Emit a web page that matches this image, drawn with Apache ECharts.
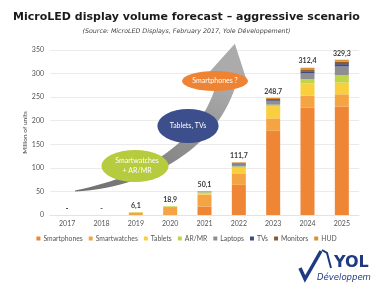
<!DOCTYPE html>
<html>
<head>
<meta charset="utf-8">
<script src="https://cdn.jsdelivr.net/npm/echarts@6/dist/echarts.min.js"></script>
<style>
html, body { margin: 0; padding: 0; background: #fff; }
#main { width: 373px; height: 286px; }
</style>
</head>
<body>
<div id="main"></div>
<script>
/* ============================= data ================================ */
var categories   = ['2017', '2018', '2019', '2020', '2021', '2022', '2023', '2024', '2025'];
var smartphones  = [0, 0, 0,   0,    18,  64,  179, 228,  230];
var smartwatches = [0, 0, 5,   16.9, 25,  23,  26,  25,   26];
var tablets      = [0, 0, 0.5, 1,    4,   13,  26,  26,   25];
var arMr         = [0, 0, 0.6, 1,    1,   3,   3,   9,    16];
var laptops      = [0, 0, 0,   0,    1,   4,   7,   12.5, 18];
var tvs          = [0, 0, 0,   0,    0.3, 1.5, 2.5, 3,    5];
var monitors     = [0, 0, 0,   0,    0.5, 1.5, 2.5, 4,    5];
var hud          = [0, 0, 0,   0,    0.3, 1.7, 2.7, 4.9,  4.3];
var totals       = ['-', '-', '6,1', '18,9', '50,1', '111,7', '248,7', '312,4', '329,3'];
var yTicks       = [0, 50, 100, 150, 200, 250, 300, 350];

var seriesNames  = ['Smartphones', 'Smartwatches', 'Tablets', 'AR/MR', 'Laptops', 'TVs', 'Monitors', 'HUD'];
var seriesData   = [smartphones, smartwatches, tablets, arMr, laptops, tvs, monitors, hud];
var seriesColors = ['#EE8636', '#F4A443', '#F9CF3E', '#C0D44A', '#8E8E92', '#3F4B80', '#8A5A33', '#DD9030'];

/* ============================= arrow (decoration) ========================= */
// curved grey arrow behind the ellipses, sampled from a cubic
function cubic(p0, p1, p2, p3, t) {
	var a = (1 - t) * (1 - t) * (1 - t), b = 3 * (1 - t) * (1 - t) * t, c = 3 * (1 - t) * t * t, d = t * t * t;
	return [a * p0[0] + b * p1[0] + c * p2[0] + d * p3[0], a * p0[1] + b * p1[1] + c * p2[1] + d * p3[1]];
}
function arrowPoints() {
	var p0 = [75, 191], p1 = [150, 182], p2 = [215, 140], p3 = [228, 76];
	var up = [], low = [];
	var n = 30;
	for (var i = 0; i <= n; i++) {
		var t = i / n;
		var c = cubic(p0, p1, p2, p3, t);
		var e = cubic(p0, p1, p2, p3, Math.min(1, t + 0.01));
		var s = cubic(p0, p1, p2, p3, Math.max(0, t - 0.01));
		var dx = e[0] - s[0], dy = e[1] - s[1];
		var len = Math.sqrt(dx * dx + dy * dy);
		dx /= len; dy /= len;
		var w = (1 + 19 * Math.pow(t, 0.8)) / 2;
		up.push([c[0] + dy * w, c[1] - dx * w]);
		low.push([c[0] - dy * w, c[1] + dx * w]);
		if (i == n) {
			var head = 19;
			up.push([c[0] + dy * head, c[1] - dx * head]);
			up.push([c[0] + dx * 33, c[1] + dy * 33]);
			up.push([c[0] - dy * head, c[1] + dx * head]);
		}
	}
	return up.concat(low.reverse());
}

/* ============================= option ========================= */
var series = [];
for (var i = 0; i < seriesNames.length; i++) {
	var s = {
		name: seriesNames[i],
		type: 'bar',
		stack: 'total',
		barWidth: 14,
		data: seriesData[i],
		itemStyle: { color: seriesColors[i] },
		emphasis: { disabled: true }
	};
	if (i == seriesNames.length - 1) { // totals on top of the stack
		s.label = {
			show: true,
			position: 'top',
			distance: 3,
			fontFamily: 'Lato',
			fontSize: 7,
			fontWeight: 'bold',
			color: '#3a3a3a',
			formatter: function (p) { return totals[p.dataIndex]; }
		};
	}
	series.push(s);
}

var option = {
	backgroundColor: '#fff',
	animation: false,
	title: [{
		text: 'MicroLED display volume forecast \u2013 aggressive scenario',
		left: 'center',
		top: 7,
		textStyle: { fontFamily: 'DejaVu Sans', fontSize: 11, fontWeight: 'bold', color: '#1a1a1a' }
	}, {
		text: '(Source: MicroLED Displays, February 2017, Yole D\u00e9veloppement)',
		left: 'center',
		top: 23,
		textStyle: { fontFamily: 'DejaVu Sans', fontSize: 6.3, fontStyle: 'italic', fontWeight: 'normal', color: '#444' }
	}],
	legend: {
		data: seriesNames,
		left: 'center',
		top: 230,
		icon: 'rect',
		itemWidth: 4,
		itemHeight: 4,
		itemGap: 6,
		textStyle: { fontFamily: 'Lato', fontSize: 6.8, color: '#555', padding: [0, 0, 0, -2] }
	},
	grid: { left: 50, right: 14, top: 50, bottom: 71 },
	xAxis: {
		type: 'category',
		data: categories,
		axisTick: { show: false },
		axisLine: { lineStyle: { color: '#e3e3e3' } },
		axisLabel: { fontFamily: 'Lato', fontSize: 7, color: '#555', margin: 5 }
	},
	yAxis: {
		type: 'value',
		min: yTicks[0],
		max: yTicks[yTicks.length - 1],
		interval: 50,
		name: 'Million of units',
		nameLocation: 'middle',
		nameGap: 22,
		nameMoveOverlap: false,
		nameTextStyle: { fontFamily: 'Lato', fontSize: 6.5, color: '#444' },
		axisLabel: { fontFamily: 'Lato', fontSize: 7, color: '#555', margin: 6 },
		splitLine: { lineStyle: { color: '#ebebeb' } }
	},
	series: series,
	graphic: [
		{
			type: 'polygon',
			shape: { points: arrowPoints() },
			style: {
				fill: { type: 'linear', x: 0, y: 1, x2: 0.4, y2: 0, colorStops: [
					{ offset: 0, color: '#6e6e6e' }, { offset: 1, color: '#ababab' }] }
			},
			z: 10
		},
		{ type: 'circle', x: 135, y: 166, scaleX: 2.1, shape: { cx: 0, cy: 0, r: 16 }, style: { fill: '#B7CB3E' }, z: 11 },
		{ type: 'text', x: 137, y: 161, style: { text: 'Smartwatches', fill: '#fff', font: '7px Lato', align: 'center', verticalAlign: 'middle' }, z: 12 },
		{ type: 'text', x: 137, y: 171, style: { text: '+ AR/MR', fill: '#fff', font: '7px Lato', align: 'center', verticalAlign: 'middle' }, z: 12 },
		{ type: 'circle', x: 188, y: 126, scaleX: 1.8, shape: { cx: 0, cy: 0, r: 17 }, style: { fill: '#3C4E8C' }, z: 11 },
		{ type: 'text', x: 188, y: 126, style: { text: 'Tablets, TVs', fill: '#fff', font: '7px Lato', align: 'center', verticalAlign: 'middle' }, z: 12 },
		{ type: 'circle', x: 215, y: 81, scaleX: 3.3, shape: { cx: 0, cy: 0, r: 10 }, style: { fill: '#EE8433' }, z: 11 },
		{ type: 'text', x: 215, y: 81, style: { text: 'Smartphones ?', fill: '#fff', font: '7px Lato', align: 'center', verticalAlign: 'middle' }, z: 12 },
		// Yole logo, bottom right
		{ type: 'polyline', shape: { points: [[300, 268], [305, 279], [321, 251]] }, style: { stroke: '#1F3A80', lineWidth: 3.5, fill: null }, z: 12 },
		{ type: 'polyline', shape: { points: [[322, 250], [327, 253], [331, 268]] }, style: { stroke: '#1F3A80', lineWidth: 2, fill: null }, z: 12 },
		{ type: 'text', x: 334, y: 271, style: { text: 'YOL', fill: '#1F3A80', font: 'bold 16px "DejaVu Sans"', verticalAlign: 'bottom' }, z: 12 },
		{ type: 'text', x: 317, y: 282, style: { text: 'D\u00e9veloppem', fill: '#1F3A80', font: 'italic 8.5px "DejaVu Sans"', verticalAlign: 'bottom' }, z: 12 }
	]
};

var chart = echarts.init(document.getElementById('main'), null, { renderer: 'canvas' });
chart.setOption(option);
</script>
</body>
</html>
